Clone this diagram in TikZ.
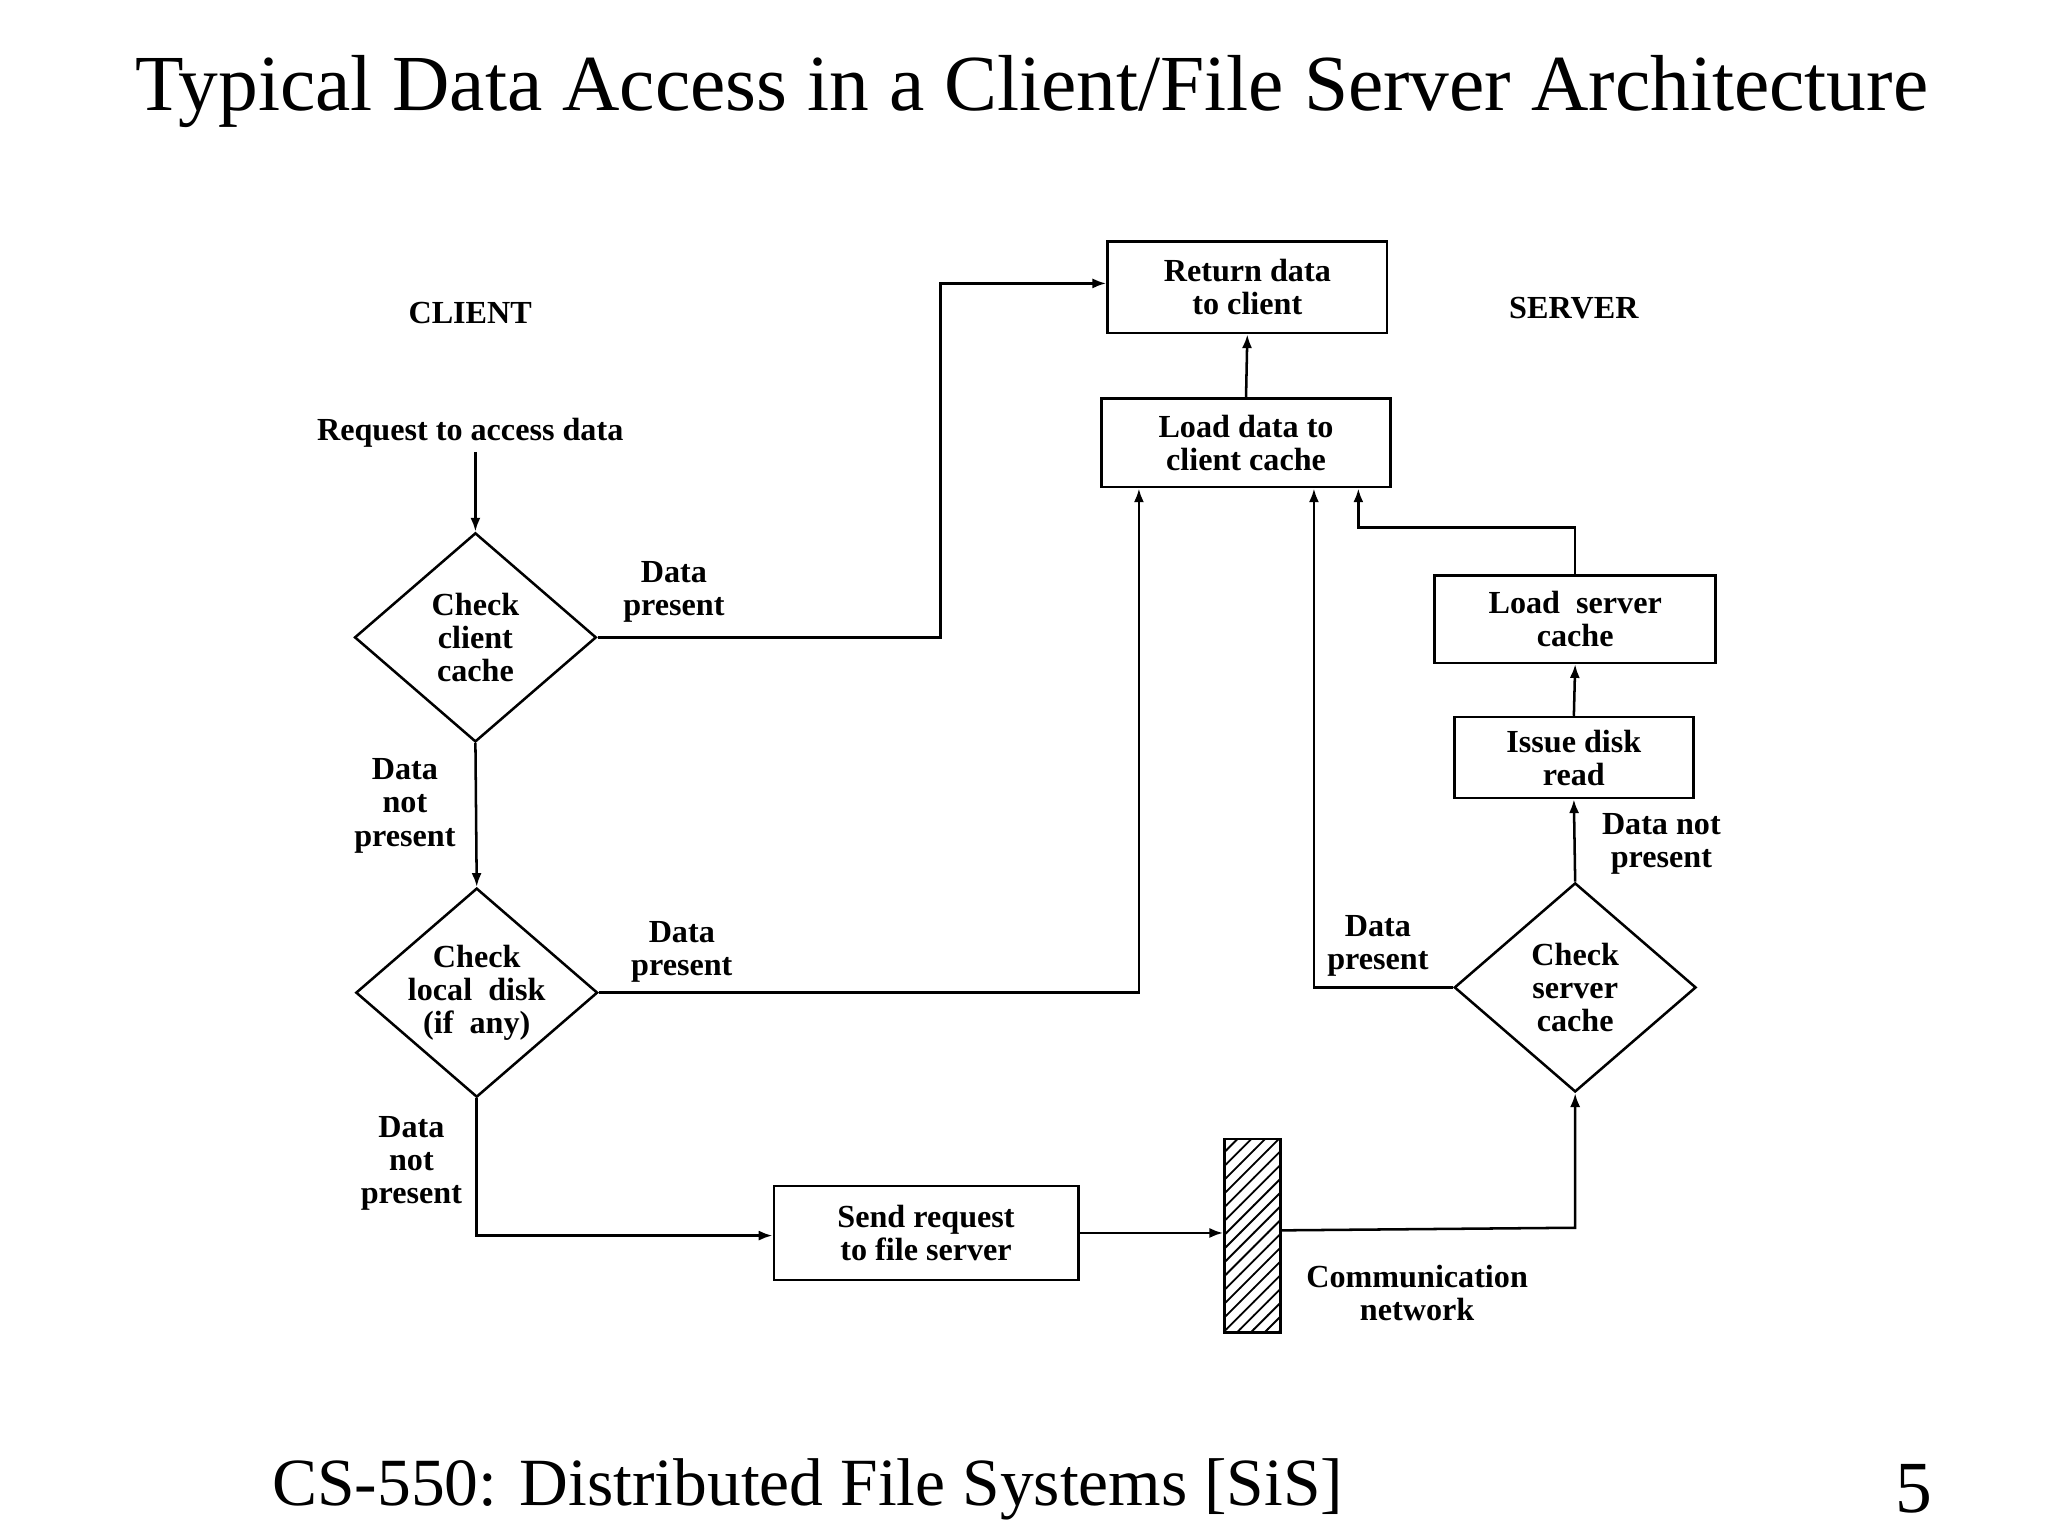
\documentclass[tikz,border=0pt]{standalone}
\usepackage{fontspec}
\setmainfont{Liberation Serif}
\usetikzlibrary{shapes.geometric,arrows.meta,patterns}
\begin{document}
\begin{tikzpicture}[x=0.01cm,y=-0.01cm,
  lbl/.style={font=\fontsize{7}{7.2}\selectfont\bfseries,align=center,inner sep=0},
  box/.style={draw,line width=0.55pt,font=\fontsize{7}{7.2}\selectfont\bfseries,align=center,inner sep=0},
  dia/.style={draw,diamond,line width=0.55pt,font=\fontsize{7}{7.2}\selectfont\bfseries,align=center,inner sep=-3pt,minimum width=1.85cm,minimum height=1.6cm},
  ar/.style={line width=0.55pt,-{Latex[length=3pt,width=2.2pt]}},
  ln/.style={line width=0.55pt}]
\useasboundingbox (0,0) rectangle (1568,1176);
\node[font=\fontsize{17.3}{20}\selectfont] (title) at (790,70) {Typical Data Access in a Client/File Server Architecture};
\node[font=\fontsize{14.7}{18}\selectfont,anchor=west] (foot) at (196,1140) {CS-550: Distributed File Systems [SiS]};
\node[font=\fontsize{16}{18}\selectfont] (pg) at (1465,1140) {5};

\node[lbl] (client) at (360,240) {CLIENT};
\node[lbl] (server) at (1205,236) {SERVER};
\node[lbl] (req) at (360,331) {Request to access data};

\node[box,minimum width=2.14cm,minimum height=0.70cm] (ret) at (955,220) {Return data\\to client};
\node[box,minimum width=2.21cm,minimum height=0.68cm] (load) at (954,339) {Load data to\\client cache};
\node[box,minimum width=2.15cm,minimum height=0.67cm] (lsc) at (1206,474) {Load\ \ server\\cache};
\node[box,minimum width=1.83cm,minimum height=0.62cm] (idr) at (1205,580) {Issue disk\\read};
\node[box,minimum width=2.33cm,minimum height=0.72cm] (send) at (709,944) {Send request\\to file server};
\node[draw,line width=0.55pt,pattern=north east lines,minimum width=0.43cm,minimum height=1.48cm,inner sep=0] (net) at (959,946) {};
\node[lbl] (netl) at (1085,990) {Communication\\network};

\node[dia] (ccc) at (364,488) {Check\\client\\cache};
\node[dia] (cld) at (365,760) {Check\\local\ \ disk\\(if\ \ any)};
\node[dia] (csc) at (1206,756) {Check\\server\\cache};

\node[lbl] (l1) at (516,453) {Data\\present};
\node[lbl] (l2) at (310,617) {Data\\not\\present};
\node[lbl] (l3) at (522,729) {Data\\present};
\node[lbl] (l4) at (315,891) {Data\\not\\present};
\node[lbl] (l5) at (1272,646) {Data not\\present};
\node[lbl] (l6) at (1055,724) {Data\\present};

\coordinate (rq) at (364,346);
\draw[ar] (rq) -- (ccc.north);
\draw[ar] (ccc.east) -- (720,488) -- (720,217) -- (ret.west |- 0,217);
\draw[ar] (ccc.south) -- (cld.north);
\draw[ar] (cld.east) -- (872,760) -- (load.south -| 872,0);
\draw[ar] (cld.south) -- (365,946) -- (send.west |- 0,946);
\draw[ar] (send.east) -- (net.west |- send.east);
\draw[ar] (net.east |- 0,942) -- (1206,940) -- (csc.south);
\draw[ar] (csc.north) -- (idr.south);
\draw[ar] (idr.north) -- (lsc.south);
\draw[ar] (lsc.north) -- (1206,404) -- (1040,404) -- (load.south -| 1040,0);
\draw[ar] (csc.west) -- (1006,756) -- (load.south -| 1006,0);
\draw[ar] (load.north) -- (ret.south);
\end{tikzpicture}
\end{document}
